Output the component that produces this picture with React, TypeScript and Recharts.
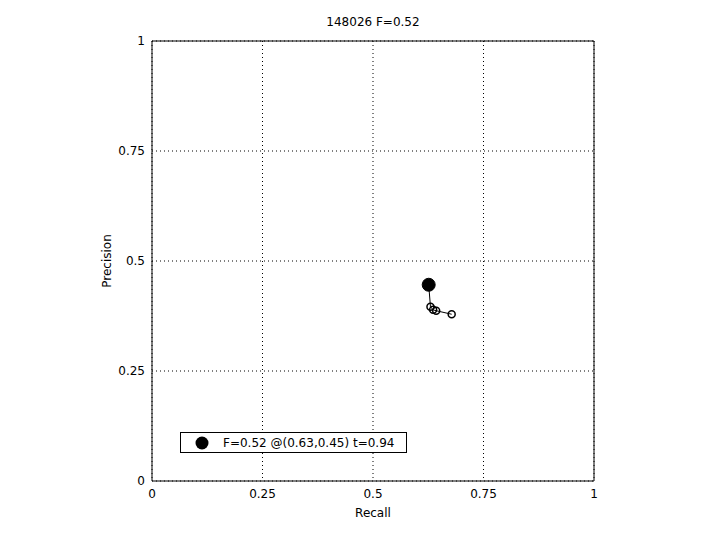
import React from 'react';
import {
  ScatterChart,
  Scatter,
  XAxis,
  YAxis,
  CartesianGrid,
  ReferenceLine,
  Legend,
  Label,
} from 'recharts';

const chartTitle = '148026 F=0.52';
const axisTicks = [0, 0.25, 0.5, 0.75, 1];

// PR curve samples (recall, precision)
const curveRecall = [0.626, 0.63, 0.636, 0.643, 0.678];
const curvePrecision = [0.446, 0.396, 0.389, 0.387, 0.379];

// best-F operating point
const bestRecall = [0.626];
const bestPrecision = [0.446];
const bestLabel = 'F=0.52 @(0.63,0.45) t=0.94';

const curveData = curveRecall.map((r, i) => ({ r, p: curvePrecision[i] }));
const bestData = bestRecall.map((r, i) => ({ r, p: bestPrecision[i] }));

const font = '"DejaVu Sans", sans-serif';

const RingDot = (props: any) => (
  <circle cx={props.cx} cy={props.cy} r={3.5} fill="none" stroke="#000" strokeWidth={1.5} />
);

const BigDot = (props: any) => (
  <circle cx={props.cx} cy={props.cy} r={6.5} fill="#000" stroke="#000" />
);

const LegendBox = () => (
  <div
    style={{
      width: 227,
      height: 21,
      boxSizing: 'border-box',
      border: '1px solid #000',
      background: '#fff',
      display: 'flex',
      alignItems: 'center',
      fontSize: 12,
      color: '#000',
      fontFamily: font,
    }}
  >
    <svg width={42} height={19}>
      <circle cx={21} cy={10} r={6.5} fill="#000" />
    </svg>
    <span>{bestLabel}</span>
  </div>
);

export default function App() {
  return (
    <div
      style={{
        position: 'absolute',
        left: 0,
        top: 0,
        width: 720,
        height: 540,
        background: '#fff',
        fontFamily: font,
      }}
    >
      <div
        style={{
          position: 'absolute',
          left: 152,
          width: 442,
          top: 15,
          textAlign: 'center',
          fontSize: 12,
          color: '#000',
        }}
      >
        {chartTitle}
      </div>
      <ScatterChart
        width={720}
        height={540}
        margin={{ top: 41, right: 126, bottom: 23, left: 102 }}
      >
        <CartesianGrid stroke="#000" strokeDasharray="1 3" />
        <XAxis
          type="number"
          dataKey="r"
          domain={[0, 1]}
          ticks={axisTicks}
          tickFormatter={(v) => String(v)}
          tickLine={false}
          axisLine={{ stroke: '#000' }}
          tick={{ fill: '#000', fontSize: 12 }}
          height={36}
        >
          <Label value="Recall" position="insideBottom" offset={0} fill="#000" fontSize={12} />
        </XAxis>
        <YAxis
          type="number"
          dataKey="p"
          domain={[0, 1]}
          ticks={axisTicks}
          tickFormatter={(v) => String(v)}
          tickLine={false}
          tickMargin={1}
          axisLine={{ stroke: '#000' }}
          tick={{ fill: '#000', fontSize: 12 }}
          width={50}
        >
          <Label value="Precision" position="insideLeft" angle={-90} offset={5} fill="#000" fontSize={12} style={{ textAnchor: 'middle' }} />
        </YAxis>
        <ReferenceLine y={1} stroke="#000" strokeWidth={1} ifOverflow="visible" />
        <ReferenceLine x={1} stroke="#000" strokeWidth={1} ifOverflow="visible" />
        <Scatter
          data={curveData}
          line={{ stroke: '#000', strokeWidth: 1 }}
          shape={RingDot}
          isAnimationActive={false}
        />
        <Scatter data={bestData} shape={BigDot} isAnimationActive={false} />
        <Legend
          layout="horizontal"
          verticalAlign="middle"
          align="center"
          content={() => <LegendBox />}
          wrapperStyle={{ left: 180, top: 432, width: 227, height: 21 }}
        />
      </ScatterChart>
    </div>
  );
}
